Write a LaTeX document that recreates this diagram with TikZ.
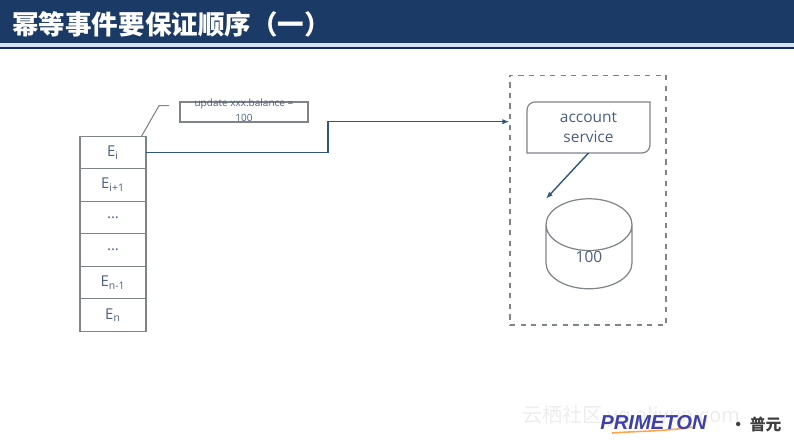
\documentclass[tikz,border=0pt]{standalone}
\usepackage{fontspec}
\setmainfont{Open Sans}
\newfontfamily\cjk{Noto Sans CJK SC}
\newfontfamily\logofont{Liberation Sans}
\usepackage{tikz}
\usetikzlibrary{positioning, shapes.geometric, arrows.meta}
\definecolor{navy}{HTML}{1B3A66}
\definecolor{deepnavy}{HTML}{14286A}
\definecolor{paleband}{HTML}{D5E3F3}
\definecolor{slate}{HTML}{4A5F80}
\definecolor{edge}{HTML}{7F8488}
\definecolor{wire}{HTML}{2F5580}
\tikzset{
  cell/.style={draw=edge, line width=0.6pt, minimum width=1.32cm, minimum height=0.65cm, inner sep=0pt, outer sep=0pt, text=slate, font=\fontsize{8.5}{10}\selectfont},
  link/.style={draw=wire, line width=0.8pt, -{Latex[length=4pt,width=3pt]}},
}
\begin{document}
\begin{tikzpicture}[x=0.02cm, y=-0.02cm, node distance=0pt]
  \useasboundingbox (0,0) rectangle (794,443);
  % header
  \fill[navy] (0,0) rectangle (794,42.5);
  \fill[paleband] (0,42.5) rectangle (794,46.5);
  \fill[deepnavy] (0,46.5) rectangle (794,48.5);
  \node[anchor=west, inner sep=0pt, text=white, font=\cjk\bfseries\fontsize{15.1}{18}\selectfont] (title) at (12,24) {幂等事件要保证顺序（一）};
  % event stack
  \node[cell] (ei) at (113,152.5) {E\textsubscript{i}};
  \node[cell] (eiplus) [below=of ei] {E\textsubscript{i+1}};
  \node[cell] (dotsa) [below=of eiplus] {...};
  \node[cell] (dotsb) [below=of dotsa] {...};
  \node[cell] (enminus) [below=of dotsb] {E\textsubscript{n-1}};
  \node[cell] (en) [below=of enminus] {E\textsubscript{n}};
  % note
  \node[draw=edge, line width=0.6pt, minimum width=2.56cm, minimum height=0.4cm, inner sep=0pt, text=slate, font=\fontsize{5.7}{6.8}\selectfont] (note) at (244,112) {\smash{\raisebox{-5.2pt}{\shortstack{update xxx.balance =\\100}}}};
  \coordinate (callout) at (169,105.7);
  \draw[edge, line width=0.6pt] (ei.north east) ++(-4.5,0) -- (159,105.7) -- (callout);
  % service side
  \node[draw=edge, dashed, line width=0.6pt, minimum width=3.12cm, minimum height=5cm] (frame) at (588,200) {};
  \node[minimum width=2.46cm, minimum height=1.02cm, inner sep=0pt, outer sep=0pt, align=center, text=slate, font=\fontsize{8.8}{11}\selectfont] (service) at (588.5,127.5) {account\\service};
  \draw[edge, line width=0.7pt] ([xshift=0.16cm]service.north west) -- (service.north east) -- ([yshift=0.16cm]service.south east) arc[start angle=0, end angle=-90, radius=0.16cm] -- (service.south west) -- ([yshift=-0.16cm]service.north west) arc[start angle=180, end angle=90, radius=0.16cm] -- cycle;
  \node[cylinder, shape border rotate=90, draw=edge, line width=0.7pt, aspect=1.95, minimum width=1.72cm, minimum height=1.8cm, inner sep=0pt, outer sep=0pt, text=slate, font=\fontsize{8.8}{11}\selectfont] (db) at (589,257) {100};
  % connectors
  \coordinate (bend) at (328,121.7);
  \draw[link] (ei.east) -| (bend) -- (bend -| frame.west);
  \draw[link] (service.south) -- (db.before top |- db.north);
  % footer
  \node[anchor=west, inner sep=0pt, text=black!7, font=\cjk\fontsize{11.5}{14}\selectfont] (mark) at (522,416) {云栖社区 yq.aliyun.com};
  \draw[orange!70, line width=0.9pt] (612,433) .. controls (640,431) and (670,431) .. (692,427);
  \node[anchor=west, inner sep=0pt, text=blue!55!black!75, font=\logofont\bfseries\itshape\fontsize{11.5}{14}\selectfont] (logo) at (600,423) {PRIMETON};
  \node[anchor=west, inner sep=0pt, text=black!75, font=\cjk\bfseries\fontsize{9}{11}\selectfont] (logocn) at (730,424) {· 普元};
\end{tikzpicture}
\end{document}
